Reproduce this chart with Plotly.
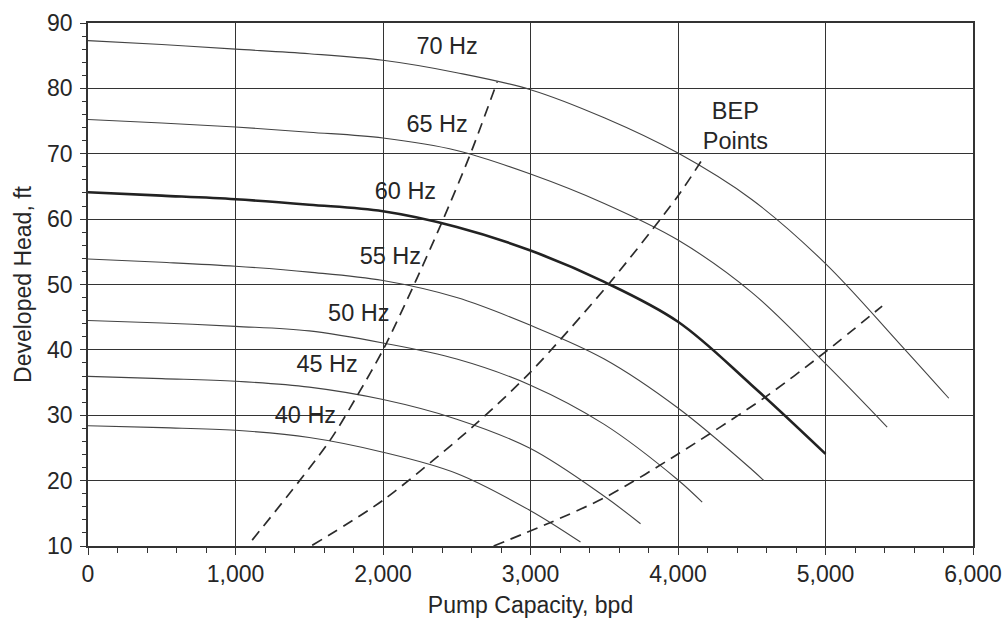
import plotly.graph_objects as go

# ---- data ----
hz70_x = [0, 500, 1000, 1500, 2000, 2500, 3000, 3500, 4000, 4500, 5000, 5500, 5836]
hz70_y = [87.3, 86.7, 86.0, 85.3, 84.3, 82.4, 79.8, 75.5, 70.1, 63.0, 53.2, 41.0, 32.6]

hz65_x = [0, 500, 1000, 1500, 2000, 2500, 3000, 3500, 4000, 4500, 5000, 5418]
hz65_y = [75.25, 74.7, 74.1, 73.3, 72.4, 70.5, 66.9, 62.4, 56.8, 48.8, 37.9, 28.2]

hz60_x = [0, 500, 1000, 1500, 2000, 2500, 3000, 3500, 4000, 4500, 5000]
hz60_y = [64.1, 63.6, 63.05, 62.2, 61.2, 58.8, 55.2, 50.4, 44.3, 34.6, 24.1]

hz55_x = [0, 500, 1000, 1500, 2000, 2500, 3000, 3500, 4000, 4500, 4582]
hz55_y = [53.9, 53.4, 52.8, 51.9, 50.6, 48.0, 43.75, 38.6, 31.1, 21.7, 20.0]

hz50_x = [0, 500, 1000, 1500, 2000, 2500, 3000, 3500, 4000, 4164]
hz50_y = [44.5, 44.1, 43.6, 42.9, 41.05, 38.6, 34.6, 28.6, 20.1, 16.7]

hz45_x = [0, 500, 1000, 1500, 2000, 2500, 3000, 3500, 3746]
hz45_y = [35.95, 35.6, 35.2, 34.3, 32.4, 29.4, 24.9, 17.6, 13.4]

hz40_x = [0, 500, 1000, 1500, 2000, 2500, 3000, 3339]
hz40_y = [28.4, 28.1, 27.7, 26.6, 24.35, 21.1, 15.4, 10.6]

bep1_x = [1113, 1633, 1820, 2005, 2209, 2401, 2593, 2774]
bep1_y = [10.9, 25.9, 32.8, 40.2, 49.9, 59.6, 70.0, 81.0]

bep2_x = [1520, 2000, 2616, 3000, 3531, 3995, 4175]
bep2_y = [10.1, 17.0, 28.4, 36.6, 50.1, 63.4, 69.5]

bep3_x = [2750, 3136, 3520, 3995, 4593, 5000, 5384]
bep3_y = [10.0, 13.6, 17.6, 24.0, 32.8, 39.7, 46.7]

label_text = ["70 Hz", "65 Hz", "60 Hz", "55 Hz", "50 Hz", "45 Hz", "40 Hz", "BEP<br>Points"]
label_x = [2435, 2367, 2152, 2050, 1836, 1621, 1474, 4389]
label_y = [86.1, 74.2, 64.0, 54.1, 45.3, 37.5, 29.7, 73.9]

x_tick_vals = [0, 1000, 2000, 3000, 4000, 5000, 6000]
x_tick_text = ["0", "1,000", "2,000", "3,000", "4,000", "5,000", "6,000"]

FONT = "Liberation Sans, Arial, Helvetica, sans-serif"
INK = "#262626"

fig = go.Figure()

curves = [
    (hz70_x, hz70_y, 1.1), (hz65_x, hz65_y, 1.1), (hz60_x, hz60_y, 2.6),
    (hz55_x, hz55_y, 1.1), (hz50_x, hz50_y, 1.1), (hz45_x, hz45_y, 1.1),
    (hz40_x, hz40_y, 1.1),
]
for cx, cy, w in curves:
    fig.add_trace(go.Scatter(x=cx, y=cy, mode="lines",
                             line=dict(color="#444444" if w < 2 else "#222222", width=w,
                                       shape="spline", smoothing=1.0),
                             showlegend=False, hoverinfo="skip"))

for bx, by in [(bep1_x, bep1_y), (bep2_x, bep2_y), (bep3_x, bep3_y)]:
    fig.add_trace(go.Scatter(x=bx, y=by, mode="lines",
                             line=dict(color="#2b2b2b", width=1.7, dash="11px,7px",
                                       shape="spline", smoothing=0.8),
                             showlegend=False, hoverinfo="skip"))

fig.add_trace(go.Scatter(x=label_x, y=label_y, mode="text", text=label_text,
                         textfont=dict(family=FONT, size=23.5, color=INK),
                         showlegend=False, hoverinfo="skip"))

axis_common = dict(
    showgrid=True, gridcolor="#333333", gridwidth=1.3,
    showline=True, linecolor="#333333", linewidth=1.6, mirror=True,
    zeroline=False, ticks="outside", tickcolor="#333333", tickwidth=1.3,
    tickfont=dict(family=FONT, size=23, color=INK), automargin=False,
)

fig.update_xaxes(range=[0, 6000], tickvals=x_tick_vals, ticktext=x_tick_text, ticklen=7,
                 minor=dict(dtick=200, tick0=0, ticks="outside", ticklen=5,
                            tickcolor="#333333", tickwidth=1.1, showgrid=False),
                 title=dict(text="Pump Capacity, bpd", font=dict(family=FONT, size=23, color=INK),
                            standoff=10),
                 **axis_common)
fig.update_yaxes(range=[10, 90], dtick=10, tick0=10, ticklen=6, ticklabelstandoff=3,
                 minor=dict(dtick=2, tick0=10, ticks="outside", ticklen=4,
                            tickcolor="#333333", tickwidth=1.1, showgrid=False),
                 title=dict(text="Developed Head, ft", font=dict(family=FONT, size=23, color=INK),
                            standoff=9),
                 **axis_common)

fig.update_layout(
    width=1006, height=621,
    margin=dict(l=88, r=33, t=23, b=75),
    plot_bgcolor="white", paper_bgcolor="white",
)

fig.write_html("out.html")
